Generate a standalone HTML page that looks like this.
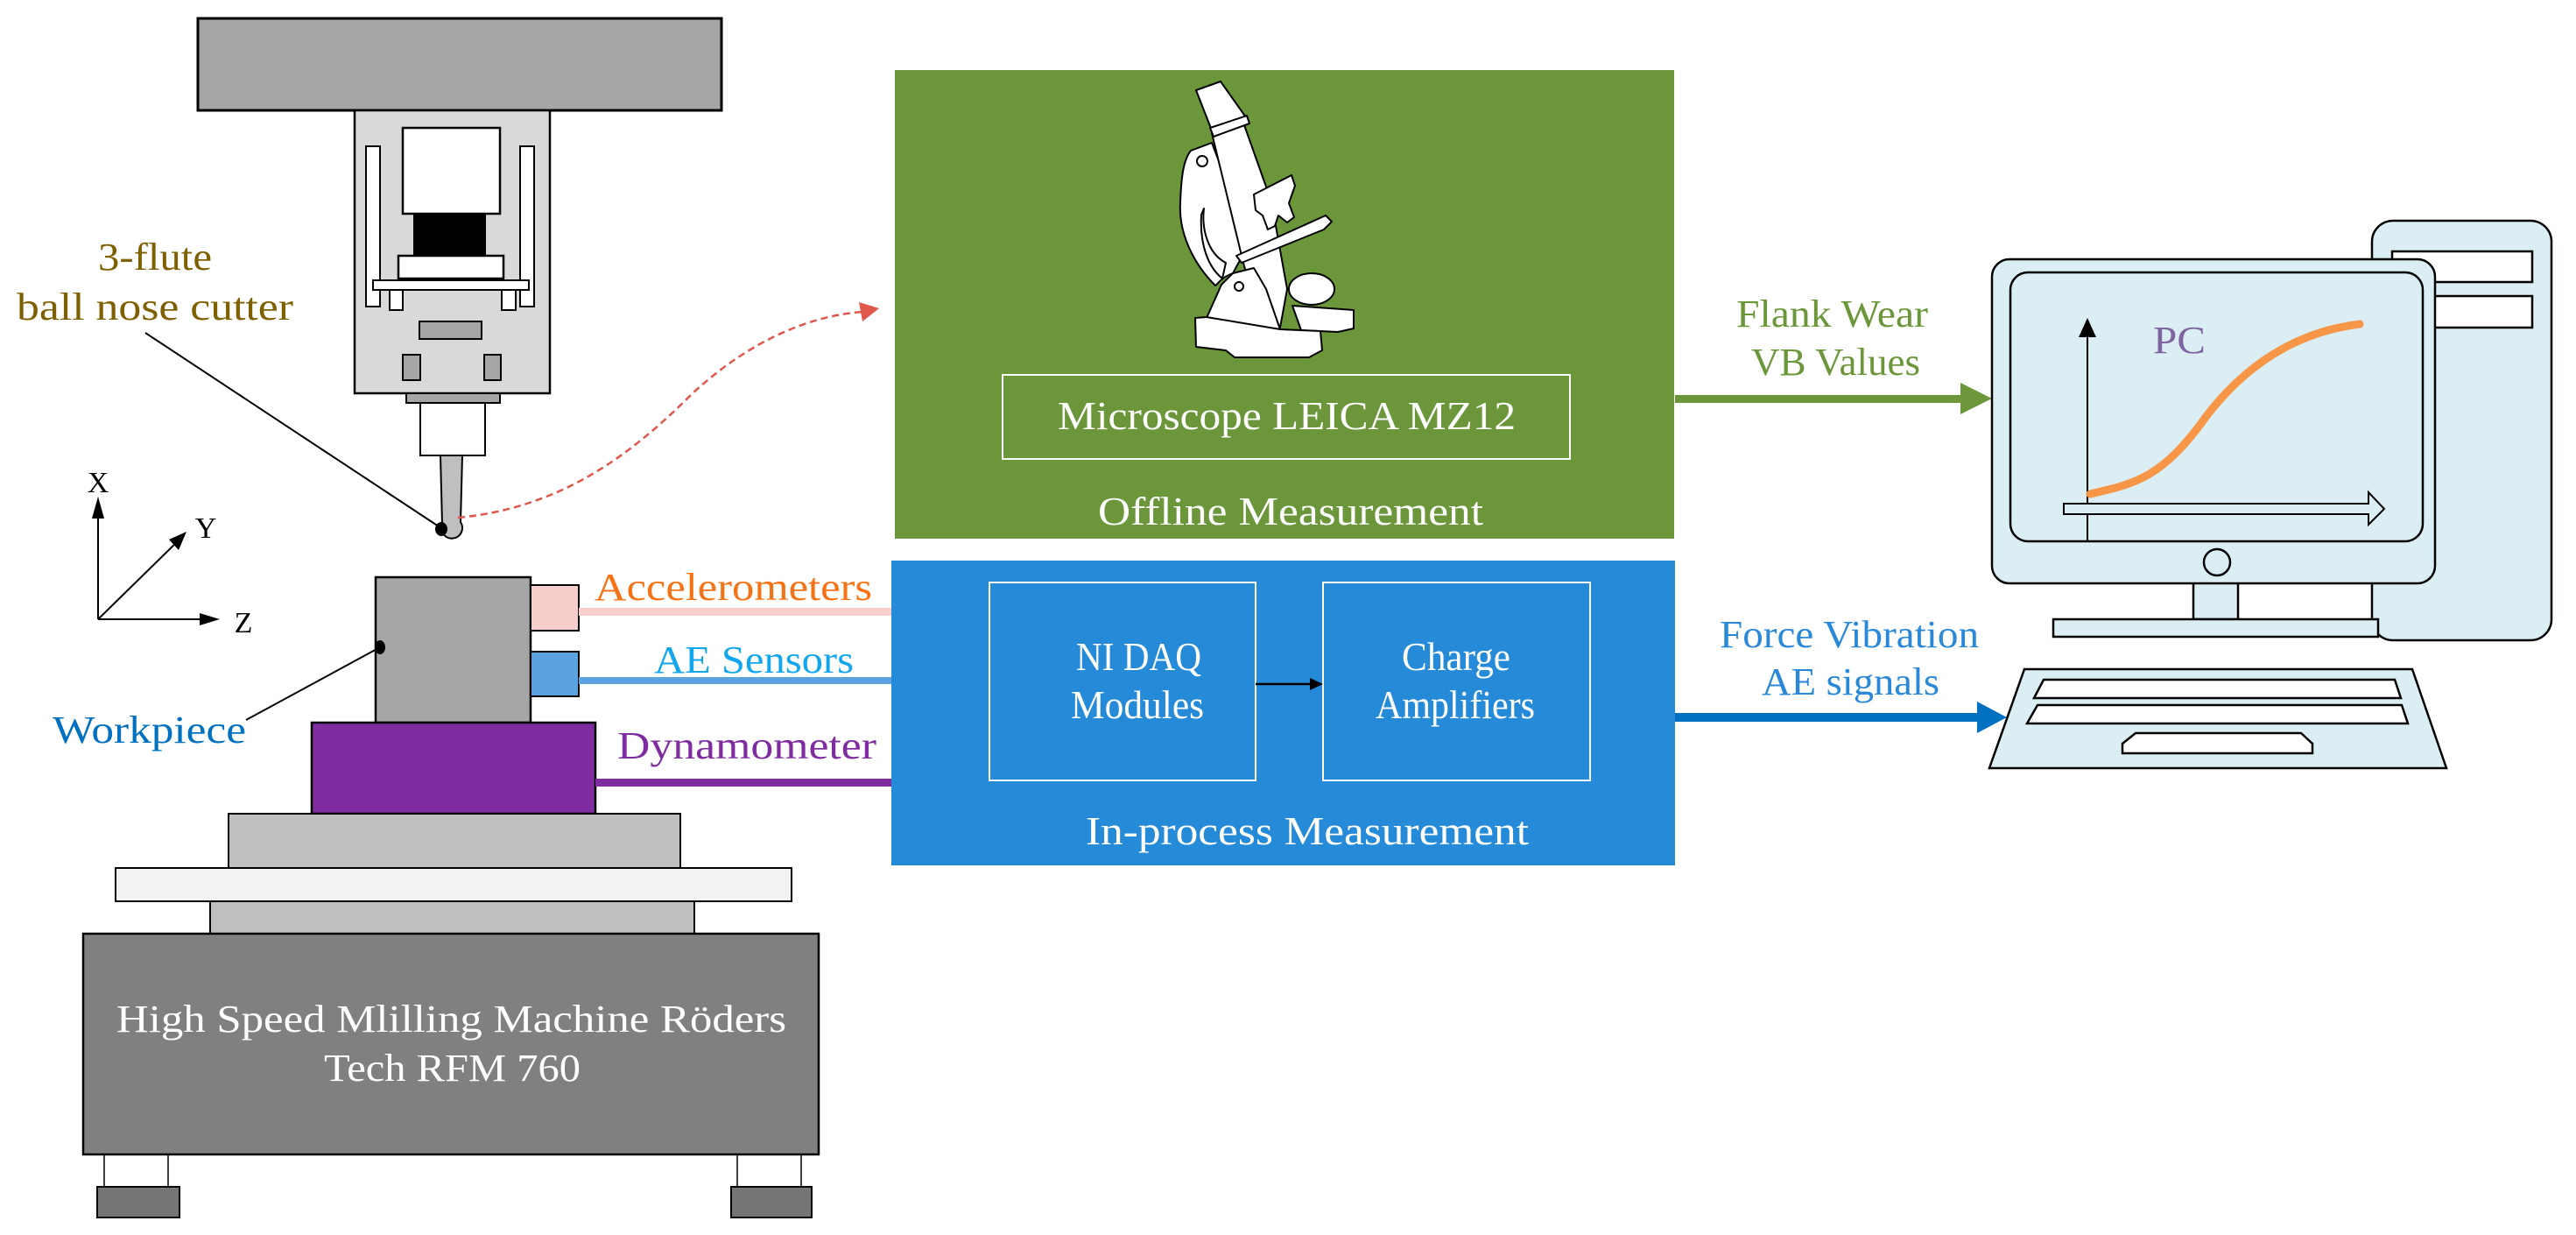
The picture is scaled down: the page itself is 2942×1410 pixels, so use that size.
<!DOCTYPE html>
<html><head><meta charset="utf-8"><style>
html,body{margin:0;padding:0;background:#fff;}
svg{display:block;}
text{font-family:"Liberation Serif","Times New Roman",serif;}
</style></head><body>
<svg width="2942" height="1410" viewBox="0 0 2942 1410" xmlns="http://www.w3.org/2000/svg" font-family="Liberation Serif, serif">
<rect width="2942" height="1410" fill="#fff"/>

<!-- Spindle head -->
<rect x="226" y="21" width="598" height="105" fill="#a6a6a6" stroke="#000" stroke-width="3"/>
<rect x="405" y="126" width="223" height="323" fill="#d9d9d9" stroke="#000" stroke-width="2.5"/>
<rect x="418" y="167" width="16" height="183" fill="#fff" stroke="#000" stroke-width="2"/>
<rect x="594" y="167" width="16" height="183" fill="#fff" stroke="#000" stroke-width="2"/>
<rect x="460" y="146" width="111" height="98" fill="#fff" stroke="#000" stroke-width="2.5"/>
<rect x="472" y="244" width="83" height="48" fill="#000"/>
<rect x="455" y="292" width="120" height="26" fill="#fff" stroke="#000" stroke-width="2.5"/>
<rect x="445" y="331" width="15" height="23" fill="#fff" stroke="#000" stroke-width="2"/>
<rect x="573" y="331" width="16" height="23" fill="#fff" stroke="#000" stroke-width="2"/>
<rect x="426" y="320" width="178" height="11" fill="#fff" stroke="#000" stroke-width="2"/>
<rect x="479" y="367" width="71" height="20" fill="#a6a6a6" stroke="#000" stroke-width="2"/>
<rect x="460" y="405" width="20" height="29" fill="#a6a6a6" stroke="#000" stroke-width="2"/>
<rect x="553" y="405" width="19" height="29" fill="#a6a6a6" stroke="#000" stroke-width="2"/>
<rect x="464" y="449" width="107" height="11" fill="#a6a6a6" stroke="#000" stroke-width="2"/>
<rect x="480" y="460" width="74" height="60" fill="#fff" stroke="#000" stroke-width="2"/>
<path d="M503,520 L528,520 L526,596 A12,12 0 1 1 505,598 Z" fill="#bfbfbf" stroke="#000" stroke-width="2"/>

<!-- cutter label -->
<text x="112" y="308" font-size="44" fill="#7f6000" textLength="130" lengthAdjust="spacingAndGlyphs">3-flute</text>
<text x="19" y="365" font-size="44" fill="#7f6000" textLength="316" lengthAdjust="spacingAndGlyphs">ball nose cutter</text>
<line x1="166" y1="380" x2="504" y2="603" stroke="#000" stroke-width="2"/>
<ellipse cx="504" cy="604" rx="7" ry="8" fill="#000"/>

<!-- dashed red curve -->
<path d="M523,591 C640,580 720,520 790,450 C860,385 930,360 985,356" fill="none" stroke="#e0574c" stroke-width="2.5" stroke-dasharray="8,5"/>
<polygon points="1004,352 981,345 985,367" fill="#e0574c"/>

<!-- axes -->
<line x1="112" y1="707" x2="112" y2="580" stroke="#000" stroke-width="2"/>
<polygon points="112,567 105,592 119,592" fill="#000"/>
<line x1="112" y1="707" x2="240" y2="707" stroke="#000" stroke-width="2"/>
<polygon points="251,707 228,700 228,714" fill="#000"/>
<line x1="112" y1="707" x2="206" y2="615" stroke="#000" stroke-width="2"/>
<polygon points="213,607 193,616 204,628" fill="#000"/>
<text x="112" y="562" font-size="34" text-anchor="middle">X</text>
<text x="235" y="614" font-size="34" text-anchor="middle">Y</text>
<text x="278" y="722" font-size="34" text-anchor="middle">Z</text>

<!-- Workpiece & sensors -->
<rect x="429" y="659" width="177" height="166" fill="#a6a6a6" stroke="#000" stroke-width="2.5"/>
<rect x="606" y="668" width="55" height="52" fill="#f8cecc" stroke="#000" stroke-width="2"/>
<rect x="606" y="744" width="55" height="51" fill="#5aa2e0" stroke="#000" stroke-width="2"/>
<rect x="661" y="694" width="358" height="9" fill="#f8cecc"/>
<rect x="661" y="773" width="358" height="8" fill="#5aa2e0"/>
<rect x="356" y="825" width="324" height="104" fill="#7f2ca0" stroke="#000" stroke-width="2.5"/>
<rect x="680" y="889" width="339" height="9" fill="#7f2ca0"/>
<rect x="261" y="929" width="516" height="62" fill="#bfbfbf" stroke="#000" stroke-width="2"/>
<rect x="132" y="991" width="772" height="38" fill="#f2f2f2" stroke="#000" stroke-width="2"/>
<rect x="240" y="1029" width="553" height="37" fill="#bfbfbf" stroke="#000" stroke-width="2"/>
<rect x="95" y="1066" width="840" height="252" fill="#808080" stroke="#000" stroke-width="2.5"/>
<line x1="119" y1="1318" x2="119" y2="1355" stroke="#000" stroke-width="1.5"/>
<line x1="192" y1="1318" x2="192" y2="1355" stroke="#000" stroke-width="1.5"/>
<line x1="842" y1="1318" x2="842" y2="1355" stroke="#000" stroke-width="1.5"/>
<line x1="915" y1="1318" x2="915" y2="1355" stroke="#000" stroke-width="1.5"/>
<rect x="111" y="1355" width="94" height="35" fill="#767676" stroke="#000" stroke-width="2"/>
<rect x="835" y="1355" width="92" height="35" fill="#767676" stroke="#000" stroke-width="2"/>
<text x="133" y="1178" font-size="44" fill="#fff" textLength="765" lengthAdjust="spacingAndGlyphs">High Speed Mlilling Machine Röders</text>
<text x="370" y="1234" font-size="44" fill="#fff" textLength="293" lengthAdjust="spacingAndGlyphs">Tech RFM 760</text>

<text x="679" y="685" font-size="44" fill="#f57314" textLength="317" lengthAdjust="spacingAndGlyphs">Accelerometers</text>
<text x="747" y="768" font-size="44" fill="#12a6ec" textLength="228" lengthAdjust="spacingAndGlyphs">AE Sensors</text>
<text x="705" y="866" font-size="44" fill="#7f2ca0" textLength="296" lengthAdjust="spacingAndGlyphs">Dynamometer</text>
<text x="60" y="848" font-size="44" fill="#0070c0" textLength="221" lengthAdjust="spacingAndGlyphs">Workpiece</text>
<line x1="281" y1="822" x2="434" y2="739" stroke="#000" stroke-width="2"/>
<ellipse cx="434" cy="739" rx="6" ry="8" fill="#000"/>

<!-- Offline green box -->
<rect x="1022" y="80" width="890" height="535" fill="#6b9639"/>
<rect x="1145" y="428" width="648" height="96" fill="none" stroke="#fff" stroke-width="2"/>
<text x="1208" y="490" font-size="46" fill="#fff" textLength="523" lengthAdjust="spacingAndGlyphs">Microscope LEICA MZ12</text>
<text x="1254" y="599" font-size="46" fill="#fff" textLength="440" lengthAdjust="spacingAndGlyphs">Offline Measurement</text>
<!-- microscope icon -->
<g fill="#fff" stroke="#000" stroke-width="2" stroke-linejoin="round">
<path d="M1360,172 L1384,163 L1398,200 L1420,290 L1408,312 C1392,318 1390,326 1388,326 C1362,300 1346,265 1348,232 C1349,200 1352,182 1360,172 Z"/>
<path d="M1375,238 C1372,262 1380,290 1400,300 L1396,318 C1380,305 1370,280 1372,245 Z" fill="#fff"/>
<path d="M1384,152 L1420,140 L1452,230 L1470,330 L1462,374 L1440,374 L1420,300 Z"/>
<path d="M1366,103 L1394,93 L1423,134 L1384,149 Z"/>
<path d="M1382,146 L1424,132 L1427,141 L1386,156 Z"/>
<path d="M1432,222 L1475,200 L1479,212 L1472,232 L1478,248 L1470,254 L1460,246 L1456,258 L1448,262 L1442,246 L1434,240 Z"/>
<path d="M1412,292 L1514,246 L1521,253 L1512,262 L1418,300 Z"/>
<path d="M1408,312 L1432,306 L1446,330 L1462,376 L1378,363 L1395,325 Z"/>
<path d="M1476,349 L1546,354 L1546,375 L1528,379 L1486,377 Z"/>
<path d="M1365,363 L1378,362 L1462,376 L1508,378 L1510,400 L1495,408 L1410,408 L1400,400 L1366,396 Z"/>
<ellipse cx="1498" cy="330" rx="26" ry="18"/>
<circle cx="1373" cy="184" r="6"/>
<circle cx="1415" cy="327" r="5"/>
</g>

<!-- green arrow -->
<rect x="1913" y="451" width="330" height="9" fill="#6b9639"/>
<polygon points="2275,455 2239,437 2239,473" fill="#6b9639"/>
<text x="1983" y="373" font-size="44" fill="#6b9639" textLength="219" lengthAdjust="spacingAndGlyphs">Flank Wear</text>
<text x="2000" y="428" font-size="44" fill="#6b9639" textLength="193" lengthAdjust="spacingAndGlyphs">VB Values</text>

<!-- In-process blue box -->
<rect x="1018" y="640" width="895" height="348" fill="#258bd8"/>
<rect x="1130" y="665" width="304" height="226" fill="none" stroke="#fff" stroke-width="2"/>
<rect x="1511" y="665" width="305" height="226" fill="none" stroke="#fff" stroke-width="2"/>
<line x1="1434" y1="781" x2="1500" y2="781" stroke="#000" stroke-width="2.5"/>
<polygon points="1511,781 1496,774 1496,788" fill="#000"/>
<text x="1229" y="765" font-size="46" fill="#fff" textLength="143" lengthAdjust="spacingAndGlyphs">NI DAQ</text>
<text x="1223" y="820" font-size="46" fill="#fff" textLength="152" lengthAdjust="spacingAndGlyphs">Modules</text>
<text x="1601" y="765" font-size="46" fill="#fff" textLength="124" lengthAdjust="spacingAndGlyphs">Charge</text>
<text x="1571" y="820" font-size="46" fill="#fff" textLength="182" lengthAdjust="spacingAndGlyphs">Amplifiers</text>
<text x="1240" y="964" font-size="46" fill="#fff" textLength="506" lengthAdjust="spacingAndGlyphs">In-process Measurement</text>

<!-- blue arrow -->
<rect x="1913" y="814" width="350" height="10" fill="#0070c0"/>
<polygon points="2292,819 2258,801 2258,837" fill="#0070c0"/>
<text x="1964" y="739" font-size="44" fill="#2a88d8" textLength="296" lengthAdjust="spacingAndGlyphs">Force Vibration</text>
<text x="2012" y="793" font-size="44" fill="#2a88d8" textLength="203" lengthAdjust="spacingAndGlyphs">AE signals</text>

<!-- Computer -->
<g stroke="#000" stroke-width="2.5" fill="#daeef3">
<rect x="2709" y="252" width="205" height="479" rx="24"/>
<rect x="2732" y="287" width="160" height="35" fill="#fff"/>
<rect x="2732" y="338" width="160" height="36" fill="#fff"/>
<rect x="2505" y="660" width="51" height="47"/>
<rect x="2345" y="707" width="371" height="20"/>
<rect x="2275" y="296" width="506" height="370" rx="20"/>
<rect x="2296" y="311" width="471" height="307" rx="20"/>
<circle cx="2532" cy="642" r="15"/>
<polygon points="2312,764 2755,764 2794,877 2272,877"/>
<polygon points="2334,776 2735,776 2742,797 2323,797" fill="#fff"/>
<polygon points="2327,805 2743,805 2750,826 2315,826" fill="#fff"/>
<polygon points="2439,837 2628,837 2641,849 2641,860 2424,860 2424,849" fill="#fff"/>
</g>
<line x1="2384" y1="618" x2="2384" y2="380" stroke="#000" stroke-width="2"/>
<polygon points="2384,363 2374,385 2394,385" fill="#000"/>
<path d="M2357,575 L2705,575 L2705,562 L2723,581 L2705,599 L2705,587 L2357,587 Z" fill="#daeef3" stroke="#000" stroke-width="2"/>
<path d="M2387,564 C2440,552 2470,545 2520,475 C2570,410 2630,378 2695,370" fill="none" stroke="#f79646" stroke-width="9" stroke-linecap="round"/>
<text x="2459" y="403" font-size="44" fill="#8064a2" textLength="60" lengthAdjust="spacingAndGlyphs">PC</text>
</svg>
</body></html>
